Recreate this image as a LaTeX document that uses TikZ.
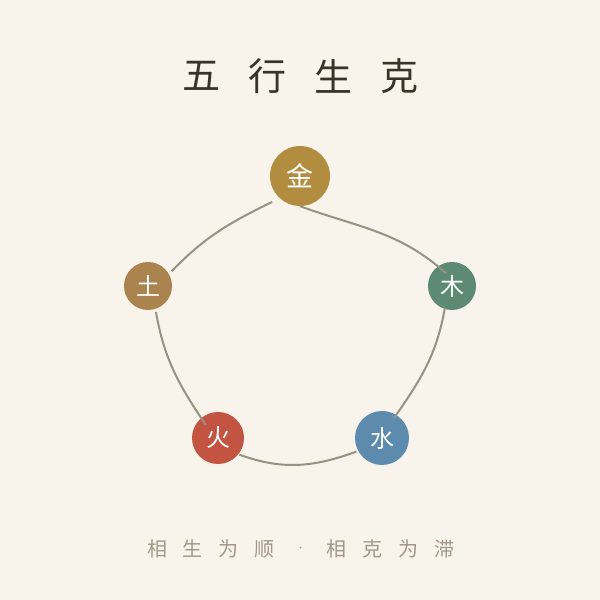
\documentclass[tikz,border=0pt]{standalone}
\usepackage{fontspec}
\usetikzlibrary{calc}
\setmainfont{Noto Sans CJK SC}
\definecolor{paper}{HTML}{F8F4EC}
\definecolor{ink}{HTML}{3A3328}
\definecolor{mute}{HTML}{A39885}
\definecolor{link}{HTML}{979282}
\definecolor{jincol}{HTML}{B38D3F}
\definecolor{mucol}{HTML}{5C8A72}
\definecolor{shuicol}{HTML}{5D8BAE}
\definecolor{huocol}{HTML}{C25441}
\definecolor{tucol}{HTML}{AA834E}
\tikzset{
  element/.style={circle, inner sep=0pt, text=white, font=\fontsize{24}{24}\selectfont},
  flow/.style={draw=link, line width=2pt},
  heading/.style={text=ink, font=\fontsize{38}{38}\selectfont},
  motto/.style={text=mute, font=\fontsize{20}{20}\selectfont}
}

\begin{document}
\begin{tikzpicture}[x=1pt, y=1pt]
\fill[paper] (0,0) rectangle (600,600);
\useasboundingbox (0,0) rectangle (600,600);

% title
\foreach \c [count=\i] in {五,行,生,克}
  \node[heading] (t\i) at ({201+(\i-1)*66.3},524) {\c};

% the five elements
\node[element, fill=jincol, minimum size=60pt, font=\fontsize{27}{27}\selectfont] (jin) at (300,424) {金};
\node[element, fill=mucol, minimum size=48pt] (mu) at (452,314) {木};
\node[element, fill=shuicol, minimum size=54pt] (shui) at (382,162) {水};
\node[element, fill=huocol, minimum size=52pt] (huo) at (218,162) {火};
\node[element, fill=tucol, minimum size=48pt] (tu) at (148,314) {土};

% generating cycle
\draw[flow] (jin.south) to[out=-20, in=138] ($(mu)+(115:14)$);
\draw[flow] ($(mu)+(252:23)$) to[out=-100, in=55] ($(shui)+(59:23)$);
\draw[flow] ($(shui)+(208:29)$) to[out=200, in=-20] ($(huo)+(-38:27)$);
\draw[flow] ($(huo)+(133:18)$) to[out=124, in=-80] ($(tu)+(-73:27)$);
\draw[flow] ($(tu)+(32:28)$) to[out=46, in=206] ($(jin)+(223:38)$);

% motto
\foreach \c [count=\i] in {相,生,为,顺,,相,克,为,滞}
  \node[motto] (m\i) at ({157+(\i-1)*35.9},51) {\c};
\node[motto, font=\fontsize{9}{9}\selectfont] (dot) at (m5) {·};
\end{tikzpicture}
\end{document}
